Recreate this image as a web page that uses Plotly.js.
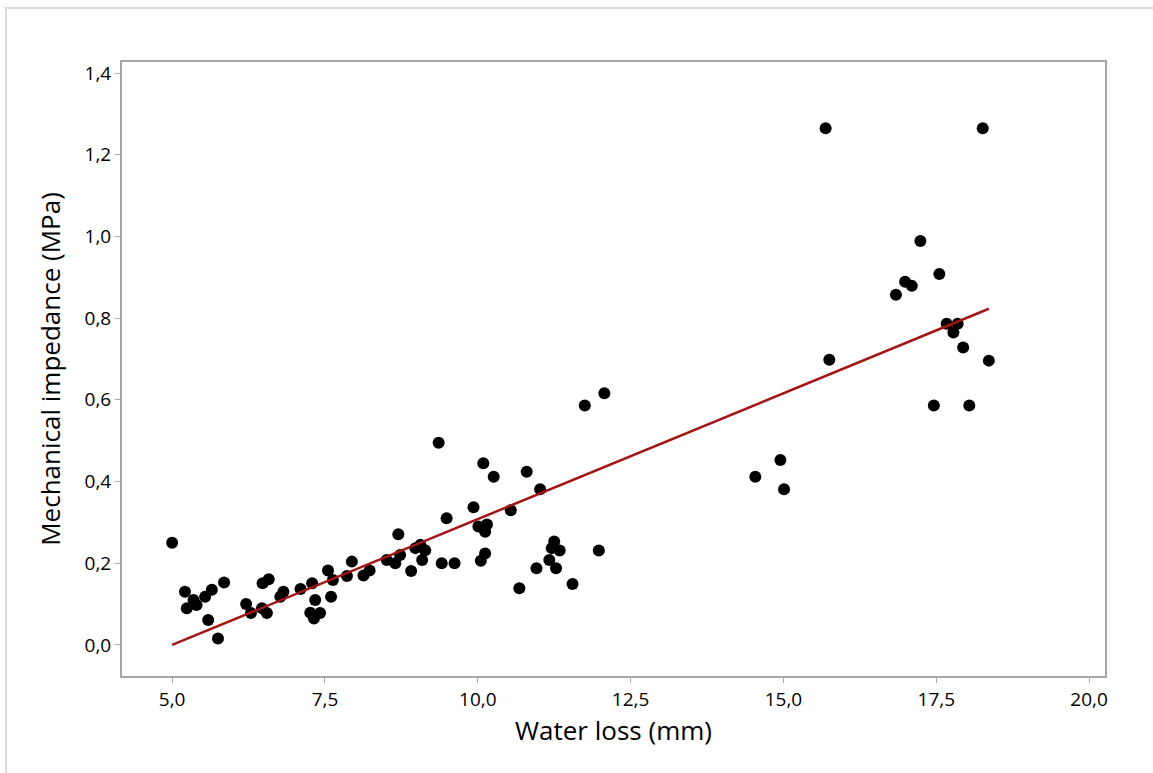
<!DOCTYPE html>
<html>
<head>
<meta charset="utf-8">
<script src="https://cdn.plot.ly/plotly-3.0.1.min.js"></script>
<style>
html,body{margin:0;padding:0;background:#fff;}
#chart{position:absolute;left:0;top:0;width:1153px;height:773px;}
#frame{position:absolute;left:5px;top:7px;width:1200px;height:800px;border-left:2px solid #dcdcdc;border-top:2px solid #dcdcdc;pointer-events:none;}
</style>
</head>
<body>
<div id="chart"></div>
<div id="frame"></div>
<script>
const waterLoss = [5.00,5.21,5.24,5.35,5.40,5.54,5.65,5.59,5.75,5.85,6.21,6.29,6.48,6.58,6.47,6.55,6.77,6.82,7.10,7.29,7.34,7.26,7.32,7.42,7.55,7.63,7.60,7.86,7.94,8.13,8.23,8.51,8.65,8.73,8.70,8.91,8.98,9.06,9.14,9.09,9.41,9.62,9.49,9.36,9.93,10.01,10.15,10.12,10.12,10.05,10.09,10.26,10.54,10.68,10.80,11.02,10.96,11.25,11.21,11.34,11.17,11.28,11.55,11.98,11.75,12.07,14.54,14.95,15.01,15.69,15.75,16.84,16.99,17.10,17.24,17.55,17.46,17.67,17.78,17.85,17.94,18.04,18.26,18.36];
const impedance = [0.250,0.130,0.090,0.110,0.098,0.118,0.135,0.061,0.016,0.153,0.100,0.078,0.151,0.161,0.090,0.078,0.118,0.130,0.137,0.151,0.110,0.079,0.065,0.078,0.182,0.159,0.118,0.169,0.204,0.170,0.182,0.208,0.200,0.220,0.271,0.181,0.237,0.245,0.232,0.208,0.200,0.200,0.310,0.495,0.337,0.290,0.295,0.277,0.224,0.206,0.445,0.412,0.330,0.139,0.424,0.381,0.188,0.253,0.237,0.231,0.208,0.188,0.149,0.231,0.586,0.616,0.412,0.453,0.381,1.265,0.698,0.857,0.889,0.879,0.989,0.908,0.586,0.786,0.765,0.786,0.728,0.586,1.265,0.696];
const fitX = [5.00, 18.36];
const fitY = [0.000, 0.823];
const xTicks = [5.0, 7.5, 10.0, 12.5, 15.0, 17.5, 20.0];
const yTicks = [0.0, 0.2, 0.4, 0.6, 0.8, 1.0, 1.2, 1.4];

const fontFam = '"Open Sans", "Noto Sans", sans-serif';
const axisCommon = {
  showline: true, linecolor: '#a6a6a6', linewidth: 2, mirror: true,
  ticks: 'outside', ticklen: 5, tickwidth: 1, tickcolor: '#a6a6a6',
  showgrid: false, zeroline: false, tickformat: '.1f',
  tickfont: {family: fontFam, size: 19, color: '#000000'}
};

Plotly.newPlot('chart', [
  {x: waterLoss, y: impedance, type: 'scatter', mode: 'markers',
   marker: {color: '#000000', size: 12}, hoverinfo: 'x+y'},
  {x: fitX, y: fitY, type: 'scatter', mode: 'lines',
   line: {color: '#a31515', width: 2.5}, hoverinfo: 'skip'}
], {
  width: 1153, height: 773,
  margin: {l: 122, r: 48, t: 62, b: 97},
  paper_bgcolor: '#ffffff', plot_bgcolor: '#ffffff',
  showlegend: false,
  separators: ',.',
  xaxis: Object.assign({}, axisCommon, {
    range: [4.18, 20.26], tickvals: xTicks,
    title: {text: 'Water loss (mm)', font: {family: fontFam, size: 26, color: '#000000'}, standoff: 8}
  }),
  yaxis: Object.assign({}, axisCommon, {
    range: [-0.076, 1.427], tickvals: yTicks,
    title: {text: 'Mechanical impedance (MPa)', font: {family: fontFam, size: 26, color: '#000000'}, standoff: 16}
  })
}, {displayModeBar: false, staticPlot: true});
</script>
</body>
</html>
